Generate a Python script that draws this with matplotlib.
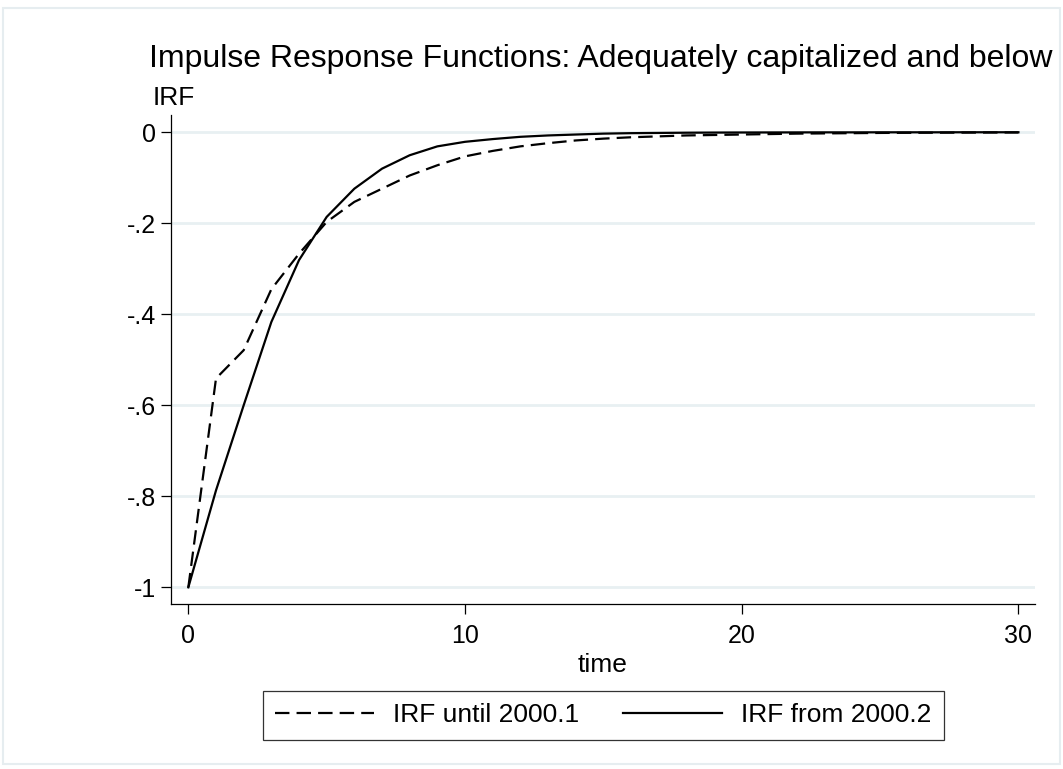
import numpy as np
import matplotlib
matplotlib.use("Agg")
import matplotlib.pyplot as plt
from matplotlib.patches import Rectangle

plt.rcParams['font.family'] = ['Liberation Sans', 'DejaVu Sans']

# data
time = list(range(0, 31))
irf_until_2000_1 = [-1.0, -0.541, -0.479, -0.345, -0.267, -0.197, -0.153, -0.124, -0.095, -0.0725,
                    -0.053, -0.041, -0.031, -0.024, -0.018, -0.014, -0.011, -0.009, -0.007, -0.006,
                    -0.005, -0.004, -0.003, -0.0025, -0.002, -0.0015, -0.0012, -0.001, -0.0008, -0.0006,
                    -0.0005]
irf_from_2000_2 = [-1.0, -0.787, -0.600, -0.417, -0.281, -0.186, -0.124, -0.080, -0.0505, -0.031,
                   -0.021, -0.015, -0.010, -0.007, -0.005, -0.003, -0.002, -0.0015, -0.001, -0.0007,
                   -0.0005, -0.0004, -0.0003, -0.0002, -0.0002, -0.0001, -0.0001, -0.0001, 0.0, 0.0,
                   0.0]
yticks = [0, -0.2, -0.4, -0.6, -0.8, -1]
ytick_labels = ["0", "-.2", "-.4", "-.6", "-.8", "-1"]
xticks = [0, 10, 20, 30]

fig = plt.figure(figsize=(10.63, 7.69), dpi=100)
ax = fig.add_axes([0.1609, 0.2152, 0.9737 - 0.1609, 0.8505 - 0.2152])

# outer frame of the graph region
fig.patches.append(Rectangle((0.003, 0.006), 0.994, 0.984, transform=fig.transFigure,
                             fill=False, edgecolor="#e6edf0", linewidth=1.5))

for y in yticks:
    ax.axhline(y, color="#e8f0f2", linewidth=2, zorder=0)

ax.plot(time, irf_until_2000_1, color="black", linewidth=1.6, dashes=(6.5, 3.2),
        label="IRF until 2000.1")
ax.plot(time, irf_from_2000_2, color="black", linewidth=1.6, label="IRF from 2000.2")

ax.set_xlim(-0.625, 30.6)
ax.set_ylim(-1.0356, 0.038)
ax.set_xticks(xticks)
ax.set_yticks(yticks)
ax.set_yticklabels(ytick_labels)
ax.tick_params(axis="both", direction="out", length=7, width=0.9, labelsize=18)
ax.tick_params(axis="y", pad=4)
ax.tick_params(axis="x", pad=8)
for side in ["top", "right"]:
    ax.spines[side].set_visible(False)
for side in ["left", "bottom"]:
    ax.spines[side].set_linewidth(0.9)

ax.set_xlabel("time", fontsize=19, labelpad=3)

fig.text(0.140, 0.9133, "Impulse Response Functions: Adequately capitalized and below",
         fontsize=23, ha="left", va="baseline")
fig.text(0.1437, 0.8635, "IRF", fontsize=19, ha="left", va="baseline")

leg = fig.legend(loc="center", bbox_to_anchor=(0.5677, 0.0696), ncol=2, fontsize=19,
                 frameon=True, fancybox=False, handlelength=3.75, handletextpad=0.72,
                 columnspacing=1.67, borderpad=0.48)
leg.get_frame().set_edgecolor("black")
leg.get_frame().set_linewidth(0.9)

fig.savefig("out.png", dpi=100)
